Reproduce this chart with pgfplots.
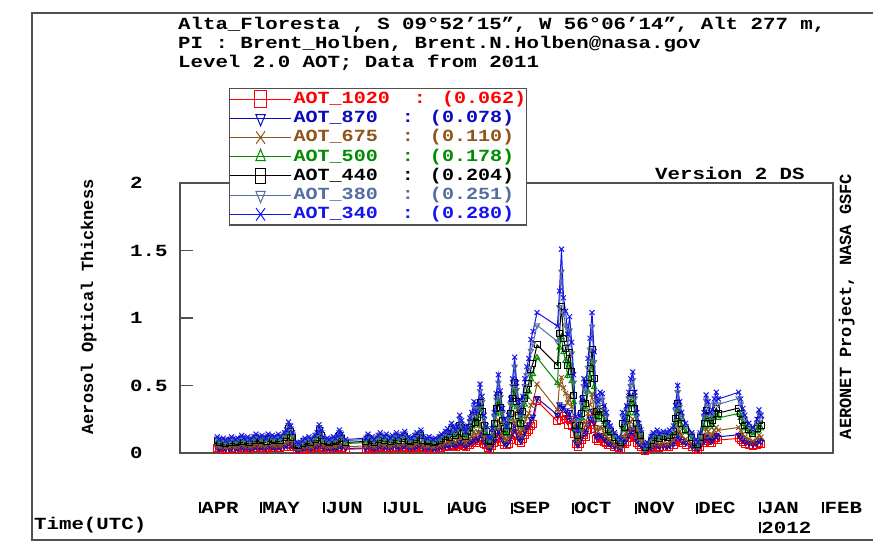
\documentclass[border=0pt]{standalone}
\usepackage{fontspec}
\setmainfont{Liberation Mono}[FakeStretch=1.22]
\newfontfamily\rotfont{Liberation Mono}
\newfontfamily\legfont{Liberation Mono}[FakeStretch=1.18]
\usepackage{pgfplots}
\pgfplotsset{compat=1.18}
\usepackage{pgfplotstable}
\definecolor{c1020}{RGB}{255,0,0}
\definecolor{c870}{RGB}{10,10,190}
\definecolor{c675}{RGB}{145,85,25}
\definecolor{c500}{RGB}{0,140,0}
\definecolor{c440}{RGB}{0,0,0}
\definecolor{c380}{RGB}{85,110,160}
\definecolor{c340}{RGB}{20,20,240}
\definecolor{frame}{RGB}{80,80,80}
\newcommand\mb{\rule{2pt}{11pt}\hspace{0.2pt}}
\pgfplotstableread{
d a1020 a870 a675 a500 a440 a380 a340
99 0.034 0.041 0.056 0.084 0.094 0.109 0.12
100 0.028 0.034 0.047 0.070 0.078 0.091 0.10
102 0.031 0.037 0.052 0.077 0.086 0.100 0.11
103 0.025 0.031 0.042 0.063 0.070 0.082 0.09
105 0.028 0.034 0.047 0.070 0.078 0.091 0.10
106 0.034 0.041 0.056 0.084 0.094 0.109 0.12
108 0.028 0.034 0.047 0.070 0.078 0.091 0.10
109 0.031 0.037 0.052 0.077 0.086 0.100 0.11
111 0.036 0.044 0.061 0.091 0.101 0.118 0.13
112 0.031 0.037 0.052 0.077 0.086 0.100 0.11
114 0.034 0.041 0.056 0.084 0.094 0.109 0.12
115 0.028 0.034 0.047 0.070 0.078 0.091 0.10
117 0.034 0.041 0.056 0.084 0.094 0.109 0.12
118 0.039 0.048 0.066 0.098 0.109 0.127 0.14
120 0.034 0.041 0.056 0.084 0.094 0.109 0.12
121 0.036 0.044 0.061 0.091 0.101 0.118 0.13
123 0.031 0.037 0.052 0.077 0.086 0.100 0.11
124 0.039 0.048 0.066 0.098 0.109 0.127 0.14
126 0.036 0.044 0.061 0.091 0.101 0.118 0.13
127 0.034 0.041 0.056 0.084 0.094 0.109 0.12
129 0.039 0.048 0.066 0.098 0.109 0.127 0.14
130 0.034 0.041 0.056 0.084 0.094 0.109 0.12
132 0.042 0.051 0.071 0.105 0.117 0.137 0.15
133 0.048 0.058 0.080 0.119 0.133 0.155 0.17
134 0.064 0.078 0.108 0.161 0.179 0.209 0.23
135 0.056 0.068 0.094 0.140 0.156 0.182 0.20
136 0.042 0.051 0.071 0.105 0.117 0.137 0.15
138 0.022 0.027 0.038 0.056 0.062 0.073 0.08
139 0.020 0.024 0.033 0.049 0.055 0.064 0.07
141 0.025 0.031 0.042 0.063 0.070 0.082 0.09
142 0.031 0.037 0.052 0.077 0.086 0.100 0.11
144 0.034 0.041 0.056 0.084 0.094 0.109 0.12
145 0.028 0.034 0.047 0.070 0.078 0.091 0.10
147 0.036 0.044 0.061 0.091 0.101 0.118 0.13
148 0.042 0.051 0.071 0.105 0.117 0.137 0.15
149 0.059 0.071 0.099 0.147 0.164 0.191 0.21
150 0.048 0.058 0.080 0.119 0.133 0.155 0.17
151 0.034 0.041 0.056 0.084 0.094 0.109 0.12
153 0.031 0.037 0.052 0.077 0.086 0.100 0.11
154 0.028 0.034 0.047 0.070 0.078 0.091 0.10
156 0.034 0.041 0.056 0.084 0.094 0.109 0.12
157 0.031 0.037 0.052 0.077 0.086 0.100 0.11
158 0.036 0.044 0.061 0.091 0.101 0.118 0.13
159 0.048 0.058 0.080 0.119 0.133 0.155 0.17
160 0.039 0.048 0.066 0.098 0.109 0.127 0.14
162 0.028 0.034 0.047 0.070 0.078 0.091 0.10
172 0.031 0.037 0.052 0.077 0.086 0.100 0.11
173 0.039 0.048 0.066 0.098 0.109 0.127 0.14
175 0.034 0.041 0.056 0.084 0.094 0.109 0.12
176 0.028 0.034 0.047 0.070 0.078 0.091 0.10
178 0.036 0.044 0.061 0.091 0.101 0.118 0.13
179 0.042 0.051 0.071 0.105 0.117 0.137 0.15
181 0.034 0.041 0.056 0.084 0.094 0.109 0.12
182 0.039 0.048 0.066 0.098 0.109 0.127 0.14
184 0.031 0.037 0.052 0.077 0.086 0.100 0.11
185 0.036 0.044 0.061 0.091 0.101 0.118 0.13
187 0.042 0.051 0.071 0.105 0.117 0.137 0.15
188 0.034 0.041 0.056 0.084 0.094 0.109 0.12
190 0.039 0.048 0.066 0.098 0.109 0.127 0.14
191 0.045 0.054 0.075 0.112 0.125 0.146 0.16
193 0.034 0.041 0.056 0.084 0.094 0.109 0.12
194 0.031 0.037 0.052 0.077 0.086 0.100 0.11
196 0.036 0.044 0.061 0.091 0.101 0.118 0.13
197 0.042 0.051 0.071 0.105 0.117 0.137 0.15
199 0.048 0.058 0.080 0.119 0.133 0.155 0.17
200 0.034 0.041 0.056 0.084 0.094 0.109 0.12
202 0.031 0.037 0.052 0.077 0.086 0.100 0.11
203 0.034 0.041 0.056 0.084 0.094 0.109 0.12
205 0.028 0.034 0.047 0.070 0.078 0.091 0.10
206 0.031 0.037 0.052 0.077 0.086 0.100 0.11
208 0.034 0.041 0.056 0.084 0.094 0.109 0.12
209 0.039 0.048 0.066 0.098 0.109 0.127 0.14
211 0.045 0.054 0.075 0.112 0.125 0.146 0.16
212 0.050 0.061 0.085 0.126 0.140 0.164 0.18
213 0.042 0.051 0.071 0.105 0.117 0.137 0.15
214 0.062 0.075 0.103 0.154 0.172 0.200 0.22
215 0.053 0.065 0.089 0.133 0.148 0.173 0.19
216 0.048 0.058 0.080 0.119 0.133 0.155 0.17
217 0.056 0.068 0.094 0.140 0.156 0.182 0.20
218 0.067 0.084 0.118 0.182 0.207 0.252 0.28
219 0.067 0.082 0.113 0.168 0.187 0.218 0.24
220 0.053 0.065 0.089 0.133 0.148 0.173 0.19
221 0.045 0.054 0.075 0.112 0.125 0.146 0.16
222 0.056 0.068 0.094 0.140 0.156 0.182 0.20
223 0.062 0.078 0.109 0.169 0.192 0.234 0.26
224 0.072 0.090 0.126 0.195 0.222 0.270 0.30
225 0.091 0.114 0.160 0.247 0.281 0.342 0.38
226 0.074 0.093 0.130 0.202 0.229 0.279 0.31
227 0.086 0.108 0.151 0.234 0.266 0.324 0.36
228 0.122 0.153 0.214 0.332 0.377 0.459 0.51
229 0.101 0.126 0.176 0.273 0.311 0.378 0.42
230 0.067 0.084 0.118 0.182 0.207 0.252 0.28
231 0.056 0.068 0.094 0.140 0.156 0.182 0.20
232 0.034 0.041 0.056 0.084 0.094 0.109 0.12
233 0.031 0.037 0.052 0.077 0.086 0.100 0.11
234 0.050 0.061 0.085 0.126 0.140 0.164 0.18
235 0.072 0.090 0.126 0.195 0.222 0.270 0.30
236 0.106 0.132 0.185 0.286 0.326 0.396 0.44
237 0.139 0.174 0.244 0.377 0.429 0.522 0.58
238 0.110 0.138 0.193 0.299 0.340 0.414 0.46
239 0.079 0.099 0.139 0.215 0.244 0.297 0.33
240 0.060 0.075 0.105 0.163 0.185 0.225 0.25
241 0.056 0.068 0.094 0.140 0.156 0.182 0.20
242 0.067 0.084 0.118 0.182 0.207 0.252 0.28
243 0.096 0.120 0.168 0.260 0.296 0.360 0.40
244 0.132 0.165 0.231 0.358 0.407 0.495 0.55
245 0.170 0.213 0.298 0.462 0.525 0.639 0.71
246 0.125 0.156 0.218 0.338 0.385 0.468 0.52
247 0.091 0.114 0.160 0.247 0.281 0.342 0.38
248 0.072 0.090 0.126 0.195 0.222 0.270 0.30
249 0.101 0.126 0.176 0.273 0.311 0.378 0.42
250 0.132 0.165 0.231 0.358 0.407 0.495 0.55
251 0.154 0.192 0.269 0.416 0.474 0.576 0.64
252 0.168 0.210 0.294 0.455 0.518 0.630 0.70
253 0.202 0.252 0.353 0.546 0.622 0.756 0.84
254 0.216 0.270 0.378 0.585 0.666 0.810 0.90
256 0.385 0.406 0.510 0.707 0.801 0.946 1.04
266 0.235 0.282 0.320 0.517 0.649 0.827 0.94
267 0.288 0.360 0.504 0.780 0.888 1.080 1.20
268 0.242 0.332 0.559 0.861 1.087 1.344 1.51
269 0.276 0.345 0.483 0.748 0.851 1.035 1.15
270 0.252 0.315 0.441 0.683 0.777 0.945 1.05
271 0.211 0.264 0.370 0.572 0.651 0.792 0.88
272 0.242 0.303 0.424 0.657 0.747 0.909 1.01
273 0.197 0.246 0.344 0.533 0.607 0.738 0.82
274 0.139 0.174 0.244 0.377 0.429 0.522 0.58
275 0.065 0.081 0.113 0.176 0.200 0.243 0.27
276 0.048 0.058 0.080 0.119 0.133 0.155 0.17
277 0.067 0.084 0.118 0.182 0.207 0.252 0.28
278 0.096 0.120 0.168 0.260 0.296 0.360 0.40
279 0.132 0.165 0.231 0.358 0.407 0.495 0.55
280 0.120 0.150 0.210 0.325 0.370 0.450 0.50
281 0.168 0.210 0.294 0.455 0.518 0.630 0.70
282 0.204 0.255 0.357 0.553 0.629 0.765 0.85
283 0.250 0.312 0.437 0.676 0.770 0.936 1.04
284 0.180 0.225 0.315 0.488 0.555 0.675 0.75
285 0.101 0.126 0.176 0.273 0.311 0.378 0.42
286 0.091 0.114 0.160 0.247 0.281 0.342 0.38
287 0.108 0.135 0.189 0.293 0.333 0.405 0.45
288 0.106 0.132 0.185 0.286 0.326 0.396 0.44
289 0.084 0.105 0.147 0.228 0.259 0.315 0.35
290 0.072 0.090 0.126 0.195 0.222 0.270 0.30
291 0.062 0.075 0.103 0.154 0.172 0.200 0.22
292 0.056 0.068 0.094 0.140 0.156 0.182 0.20
294 0.042 0.051 0.071 0.105 0.117 0.137 0.15
296 0.034 0.041 0.056 0.084 0.094 0.109 0.12
297 0.028 0.034 0.047 0.070 0.078 0.091 0.10
298 0.072 0.090 0.126 0.195 0.222 0.270 0.30
299 0.067 0.082 0.113 0.168 0.187 0.218 0.24
300 0.084 0.105 0.147 0.228 0.259 0.315 0.35
301 0.108 0.135 0.189 0.293 0.333 0.405 0.45
302 0.132 0.165 0.231 0.358 0.407 0.495 0.55
303 0.144 0.180 0.252 0.390 0.444 0.540 0.60
304 0.108 0.135 0.189 0.293 0.333 0.405 0.45
305 0.072 0.090 0.126 0.195 0.222 0.270 0.30
306 0.062 0.075 0.103 0.154 0.172 0.200 0.22
307 0.048 0.058 0.080 0.119 0.133 0.155 0.17
309 0.014 0.017 0.024 0.035 0.039 0.046 0.05
310 0.022 0.027 0.038 0.056 0.062 0.073 0.08
312 0.034 0.041 0.056 0.084 0.094 0.109 0.12
313 0.042 0.051 0.071 0.105 0.117 0.137 0.15
315 0.048 0.058 0.080 0.119 0.133 0.155 0.17
316 0.039 0.048 0.066 0.098 0.109 0.127 0.14
318 0.045 0.054 0.075 0.112 0.125 0.146 0.16
320 0.042 0.051 0.071 0.105 0.117 0.137 0.15
321 0.048 0.058 0.080 0.119 0.133 0.155 0.17
323 0.056 0.068 0.094 0.140 0.156 0.182 0.20
324 0.084 0.105 0.147 0.228 0.259 0.315 0.35
325 0.120 0.150 0.210 0.325 0.370 0.450 0.50
326 0.091 0.114 0.160 0.247 0.281 0.342 0.38
327 0.072 0.090 0.126 0.195 0.222 0.270 0.30
329 0.062 0.075 0.103 0.154 0.172 0.200 0.22
332 0.042 0.051 0.071 0.105 0.117 0.137 0.15
334 0.028 0.034 0.047 0.070 0.078 0.091 0.10
335 0.022 0.027 0.038 0.056 0.062 0.073 0.08
336 0.042 0.051 0.071 0.105 0.117 0.137 0.15
338 0.072 0.090 0.126 0.195 0.222 0.270 0.30
339 0.103 0.129 0.181 0.280 0.318 0.387 0.43
340 0.091 0.114 0.160 0.247 0.281 0.342 0.38
341 0.072 0.090 0.126 0.195 0.222 0.270 0.30
342 0.077 0.096 0.134 0.208 0.237 0.288 0.32
343 0.096 0.120 0.168 0.260 0.296 0.360 0.40
344 0.108 0.135 0.189 0.293 0.333 0.405 0.45
345 0.096 0.120 0.168 0.260 0.296 0.360 0.40
355 0.108 0.135 0.189 0.293 0.333 0.405 0.45
356 0.096 0.120 0.168 0.260 0.296 0.360 0.40
357 0.079 0.099 0.139 0.215 0.244 0.297 0.33
358 0.067 0.084 0.118 0.182 0.207 0.252 0.28
360 0.062 0.075 0.103 0.154 0.172 0.200 0.22
362 0.053 0.065 0.089 0.133 0.148 0.173 0.19
364 0.060 0.075 0.105 0.163 0.185 0.225 0.25
365 0.077 0.096 0.134 0.208 0.237 0.288 0.32
366 0.067 0.084 0.118 0.182 0.207 0.252 0.28
}\aot
\begin{document}
\fontsize{17}{20}\selectfont\bfseries
\begin{tikzpicture}
\useasboundingbox (0pt,0pt) rectangle (873pt,553pt);
\fill[white] (0pt,0pt) rectangle (873pt,553pt);
\draw[frame, line width=1.3pt] (890pt,540pt) -- (32pt,540pt) -- (32pt,13pt) -- (890pt,13pt);
\node[anchor=base west, inner sep=0pt] at (178pt,523pt) {Alta\_Floresta , S 09°52'15", W 56°06'14", Alt 277 m,};
\node[anchor=base west, inner sep=0pt] at (178pt,504pt) {PI : Brent\_Holben, Brent.N.Holben@nasa.gov};
\node[anchor=base west, inner sep=0pt] at (178pt,485pt) {Level 2.0 AOT; Data from 2011};
\node[anchor=base west, inner sep=0pt] at (655pt,373pt) {Version 2 DS};
\node[anchor=base west, inner sep=0pt] at (34pt,23pt) {Time(UTC)};
\node[anchor=base, rotate=90, inner sep=0pt, font=\rotfont\bfseries] at (93pt,246pt) {Aerosol Optical Thickness};
\node[anchor=base, rotate=90, inner sep=0pt, font=\rotfont\bfseries] at (851pt,246.5pt) {AERONET Project, NASA GSFC};
\begin{axis}[
  at={(180pt,100pt)}, anchor=south west,
  scale only axis, width=653pt, height=270pt,
  xmin=80.7, xmax=401.3, ymin=0, ymax=2,
  axis line style={draw=frame, line width=1.2pt},
  ytick={0,0.5,1,1.5,2},
  ytick pos=left, tick align=inside,
  major tick length=13pt,
  y tick style={draw=frame, line width=1.2pt},
  /pgf/number format/assume math mode=true,
  yticklabel style={anchor=west, xshift=-50pt, inner sep=0pt},
  xtick={90,120,151,181,212,243,273,304,334,365,396},
  xticklabels={{\mb APR},{\mb MAY},{\mb JUN},{\mb JUL},{\mb AUG},{\mb SEP},{\mb OCT},{\mb NOV},{\mb DEC},{\mb JAN\\\mb 2012},{\mb FEB}},
  x tick style={draw=none},
  xticklabel style={anchor=north west, yshift=-49pt, inner sep=0pt, align=left},
  legend style={at={(axis description cs:0.075,1.352)}, anchor=north west,
    draw=frame, line width=1.2pt, fill=white, font=\legfont\bfseries,
    inner xsep=0pt, inner ysep=1pt, row sep=0pt, column sep=2pt,
    nodes={inner sep=0pt, text height=14pt, text depth=5.2pt}},
  legend cell align=left,
  legend image code/.code={\draw[mark repeat=2,mark phase=2,#1] plot coordinates {(0pt,0pt) (30.5pt,0pt) (61pt,0pt)};},
  legend image post style={every mark/.append style={xscale=1.8,yscale=2.5}},
]
\addplot[color=c1020, line width=1pt, mark=square, mark size=3.5pt, mark options={solid}] table[x=d,y=a1020]{\aot};
\addlegendentry{\textcolor{c1020}{AOT\_1020\ \ : (0.062)}}
\addplot[color=c870, line width=1pt, mark=triangle, mark size=3pt, mark options={solid, rotate=180}] table[x=d,y=a870]{\aot};
\addlegendentry{\textcolor{c870}{AOT\_870\ \ : (0.078)}}
\addplot[color=c675, line width=1pt, mark=x, mark size=3.5pt, mark options={solid}] table[x=d,y=a675]{\aot};
\addlegendentry{\textcolor{c675}{AOT\_675\ \ : (0.110)}}
\addplot[color=c500, line width=1pt, mark=triangle, mark size=3pt, mark options={solid}] table[x=d,y=a500]{\aot};
\addlegendentry{\textcolor{c500}{AOT\_500\ \ : (0.178)}}
\addplot[color=c440, line width=1pt, mark=square, mark size=3pt, mark options={solid}] table[x=d,y=a440]{\aot};
\addlegendentry{\textcolor{c440}{AOT\_440\ \ : (0.204)}}
\addplot[color=c380, line width=1pt, mark=triangle, mark size=3pt, mark options={solid, rotate=180}] table[x=d,y=a380]{\aot};
\addlegendentry{\textcolor{c380}{AOT\_380\ \ : (0.251)}}
\addplot[color=c340, line width=1pt, mark=x, mark size=3.5pt, mark options={solid}] table[x=d,y=a340]{\aot};
\addlegendentry{\textcolor{c340}{AOT\_340\ \ : (0.280)}}
\end{axis}
\end{tikzpicture}
\end{document}
